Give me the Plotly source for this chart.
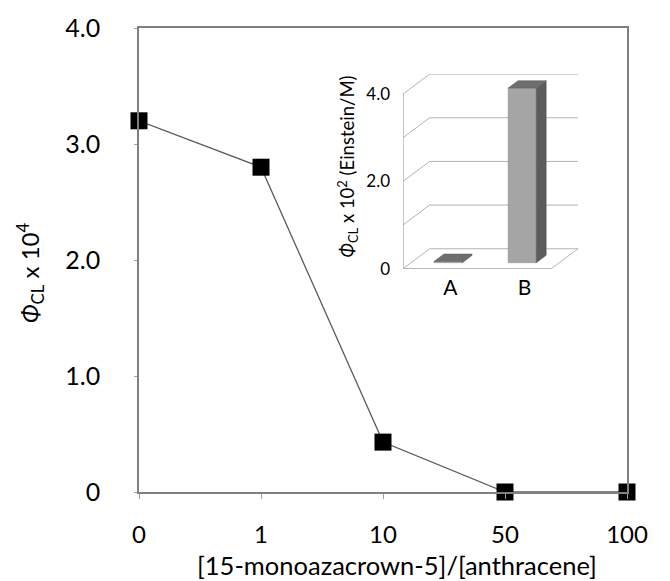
import plotly.graph_objects as go

# Main series: chemiluminescence quantum yield vs. crown ether ratio
ratio_labels = ["0", "1", "10", "50", "100"]
phi_cl = [3.20, 2.80, 0.43, 0.0, 0.0]

# Inset bar chart
inset_cats = ["A", "B"]
inset_vals = [0.03, 4.0]
inset_grid = [0, 1, 2, 3, 4]
inset_label_vals = [0, 2, 4]
inset_label_text = ["0", "2.0", "4.0"]

main_ticks = [0, 1, 2, 3, 4]
main_ticktext = ["0", "1.0", "2.0", "3.0", "4.0"]

FONT = "Lato"
W, H = 670, 581
ML, MR, MT, MB = 139, 43, 26, 89
PW, PH = W - ML - MR, H - MT - MB


def px_x(p):
    return (p - ML) / PW


def px_y(p):
    return (H - MB - p) / PH


fig = go.Figure()

fig.add_trace(go.Scatter(
    x=ratio_labels, y=phi_cl, mode="lines+markers",
    line=dict(color="#5a5a5a", width=1.3),
    marker=dict(symbol="square", size=17, color="black",
                line=dict(color="black", width=0)),
    cliponaxis=False, showlegend=False,
))

# --- inset: pseudo-3D column chart on its own axes ---
DX, DY = 0.36, 0.456          # oblique depth offset (x2 / y2 units)
F1, F2 = 0.30, 0.67           # front / back depth fraction of the columns
BW = 0.38                     # column width
X0, X1 = -0.5, len(inset_cats) - 0.5
YMAX = max(inset_grid)

shapes = []
grid = dict(color="#b4b4b4", width=1)
axis_c = dict(color="#a0a0a0", width=1.2)


def seg(x0, y0, x1, y1, line):
    shapes.append(dict(type="line", xref="x2", yref="y2",
                       x0=x0, y0=y0, x1=x1, y1=y1, line=line, layer="above"))


def poly(pts, fill, line_color):
    path = "M " + " L ".join(f"{x},{y}" for x, y in pts) + " Z"
    shapes.append(dict(type="path", xref="x2", yref="y2", path=path,
                       fillcolor=fill, line=dict(color=line_color, width=0.5),
                       layer="above"))


for v in inset_grid:
    seg(X0, v, X0 + DX, v + DY, grid)            # side wall
    seg(X0 + DX, v + DY, X1 + DX, v + DY, grid)  # back wall
    seg(X0 - 0.05, v, X0, v, axis_c)             # value-axis tick mark
seg(X1, 0, X1 + DX, DY, grid)                    # floor right edge
seg(X0, 0, X0, YMAX, axis_c)                     # front value axis
seg(X0, 0, X1, 0, axis_c)                        # front category axis
for k in range(len(inset_cats) + 1):
    xk = X0 + k
    seg(xk, 0, xk, -0.12, axis_c)

for i, v in enumerate(inset_vals):
    xl = i - BW / 2
    xr = i + BW / 2
    front = [(xl + F1 * DX, F1 * DY), (xr + F1 * DX, F1 * DY),
             (xr + F1 * DX, v + F1 * DY), (xl + F1 * DX, v + F1 * DY)]
    side = [(xr + F1 * DX, F1 * DY), (xr + F2 * DX, F2 * DY),
            (xr + F2 * DX, v + F2 * DY), (xr + F1 * DX, v + F1 * DY)]
    top = [(xl + F1 * DX, v + F1 * DY), (xr + F1 * DX, v + F1 * DY),
           (xr + F2 * DX, v + F2 * DY), (xl + F2 * DX, v + F2 * DY)]
    poly(front, "#a5a5a5", "#8a8a8a")
    poly(side, "#5c5c5c", "#555555")
    poly(top, "#6e6e6e", "#606060")

label_shift = 0.14
fig.update_layout(
    width=W, height=H,
    margin=dict(l=ML, r=MR, t=MT, b=MB),
    paper_bgcolor="white", plot_bgcolor="white",
    font=dict(family=FONT, color="black", size=25),
    xaxis=dict(
        type="category", range=[0, len(ratio_labels) - 1],
        showline=True, linecolor="#808080", linewidth=1.5, mirror=True,
        ticks="outside", ticklen=5, tickcolor="#a0a0a0", tickwidth=1,
        showgrid=False, zeroline=False,
        tickfont=dict(size=24, family=FONT), ticklabelstandoff=15,
    ),
    yaxis=dict(
        range=[0, 4], tickvals=main_ticks, ticktext=main_ticktext,
        showline=True, linecolor="#808080", linewidth=1.5, mirror=True,
        ticks="outside", ticklen=3, tickcolor="#a0a0a0", tickwidth=1,
        showgrid=False, zeroline=False,
        tickfont=dict(size=25, family=FONT), ticklabelstandoff=29,
    ),
    xaxis2=dict(
        domain=[px_x(403), px_x(578)], anchor="y2",
        range=[X0, X1 + DX],
        tickvals=[i + label_shift for i in range(len(inset_cats))],
        ticktext=inset_cats, ticks="",
        showline=False, showgrid=False, zeroline=False,
        tickfont=dict(size=21, family=FONT), ticklabelstandoff=4,
    ),
    yaxis2=dict(
        domain=[px_y(267.7), px_y(72.3)], anchor="x2",
        range=[0, YMAX + DY],
        tickvals=inset_label_vals, ticktext=inset_label_text, ticks="",
        showline=False, showgrid=False, zeroline=False,
        tickfont=dict(size=17, family=FONT), ticklabelstandoff=12,
    ),
    shapes=shapes,
    annotations=[
        dict(text="[15-monoazacrown-5]/[anthracene]", xref="paper", yref="paper",
             x=px_x(397), y=px_y(565), xanchor="center", yanchor="middle",
             showarrow=False, font=dict(size=25.5, family=FONT)),
        dict(text="<i>Φ</i><sub>CL</sub> x 10<sup>4</sup>", xref="paper", yref="paper",
             x=px_x(30), y=px_y(272), xanchor="center", yanchor="middle",
             textangle=-90, showarrow=False, font=dict(size=24, family=FONT)),
        dict(text="<i>Φ</i><sub>CL</sub> x 10<sup>2</sup> (Einstein/M)",
             xref="paper", yref="paper",
             x=px_x(348), y=px_y(165), xanchor="center", yanchor="middle",
             textangle=-90, showarrow=False, font=dict(size=18.5, family=FONT)),
    ],
)

# invisible trace so the inset axes are created
fig.add_trace(go.Scatter(x=[X0], y=[0], xaxis="x2", yaxis="y2", mode="markers",
                         marker=dict(opacity=0), showlegend=False, hoverinfo="skip"))

fig.write_html("out.html")
